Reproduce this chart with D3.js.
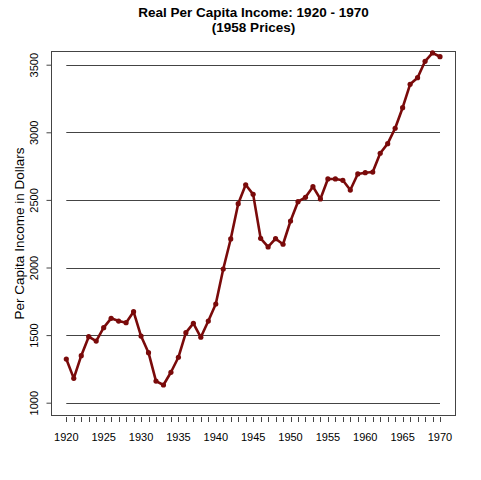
<!DOCTYPE html>
<html>
<head>
<meta charset="utf-8">
<script src="https://cdn.jsdelivr.net/npm/d3@7"></script>
<style>
html,body{margin:0;padding:0;background:#fff;}
svg{display:block;font-family:Arial,"Liberation Sans",sans-serif;}
</style>
</head>
<body>
<script>
const years = d3.range(1920, 1971);
const income = [1323,1180,1348,1488,1456,1555,1624,1604,1592,1673,
  1493,1370,1160,1131,1225,1336,1518,1587,1484,1604,
  1730,1989,2211,2472,2612,2541,2216,2152,2213,2172,
  2344,2487,2519,2598,2507,2655,2655,2645,2573,2692,
  2701,2706,2845,2916,3030,3182,3355,3404,3525,3587,3559];
const yTicks = [1000,1500,2000,2500,3000,3500];
const xLabelTicks = [1920,1925,1930,1935,1940,1945,1950,1955,1960,1965,1970];
const titleLines = ["Real Per Capita Income: 1920 - 1970","(1958 Prices)"];
const yLabel = "Per Capita Income in Dollars";

const W = 481, H = 480;
const box = {l:51.5, r:455.5, t:51.5, b:415.5};
const svg = d3.select("body").append("svg").attr("width",W).attr("height",H);

const x = d3.scaleLinear().domain([1920,1970]).range([66.3,440]);
const y = d3.scaleLinear().domain([1000,3000]).range([402.7,132.3]);

// gridlines
svg.append("g").selectAll("line").data(yTicks).join("line")
  .attr("x1",x(1920)).attr("x2",x(1970))
  .attr("y1",d=>Math.round(y(d))+0.5).attr("y2",d=>Math.round(y(d))+0.5)
  .attr("stroke","#444").attr("stroke-width",1);

// box
svg.append("rect").attr("x",box.l).attr("y",box.t)
  .attr("width",box.r-box.l).attr("height",box.b-box.t)
  .attr("fill","none").attr("stroke","#444").attr("stroke-width",1);

// y axis
const yAxis = svg.append("g").attr("transform",`translate(${box.l},0)`)
  .call(d3.axisLeft(y).tickValues(yTicks).tickSize(5).tickFormat(d3.format("d")));
yAxis.select(".domain").remove();
yAxis.selectAll("line").attr("stroke","#444");
yAxis.selectAll("text")
  .attr("font-size",11).attr("fill","#000")
  .attr("font-family","Arial,'Liberation Sans',sans-serif")
  .attr("x",-13.5).attr("y",0).attr("dy",null)
  .attr("transform","rotate(-90,-13.5,0)")
  .attr("text-anchor","middle");

// x axis ticks (every year) without a line
const xg = svg.append("g").attr("transform","translate(0,417)");
xg.selectAll("line").data(years).join("line")
  .attr("x1",d=>Math.round(x(d))+0.5).attr("x2",d=>Math.round(x(d))+0.5)
  .attr("y1",0).attr("y2",5).attr("stroke","#444");
xg.selectAll("text").data(xLabelTicks).join("text")
  .attr("x",d=>x(d)).attr("y",23.5)
  .attr("text-anchor","middle").attr("font-size",11).attr("fill","#000")
  .text(d=>d);

// line
const line = d3.line().x((d,i)=>x(years[i])).y(d=>y(d));
svg.append("path").datum(income).attr("d",line)
  .attr("fill","none").attr("stroke","#7a0a0a").attr("stroke-width",2.6)
  .attr("stroke-linejoin","round");
svg.append("g").selectAll("circle").data(income).join("circle")
  .attr("cx",(d,i)=>x(years[i])).attr("cy",d=>y(d)).attr("r",2.6)
  .attr("fill","#7a0a0a");

// title
svg.append("g").selectAll("text").data(titleLines).join("text")
  .attr("x",(box.l+box.r)/2).attr("y",(d,i)=>17+i*15)
  .attr("text-anchor","middle").attr("font-size",13.5).attr("font-weight","bold")
  .attr("fill","#000").text(d=>d);

// y label
svg.append("text")
  .attr("transform",`translate(24,${(box.t+box.b)/2}) rotate(-90)`)
  .attr("text-anchor","middle").attr("font-size",13.5).attr("fill","#000")
  .text(yLabel);
</script>
</body>
</html>
